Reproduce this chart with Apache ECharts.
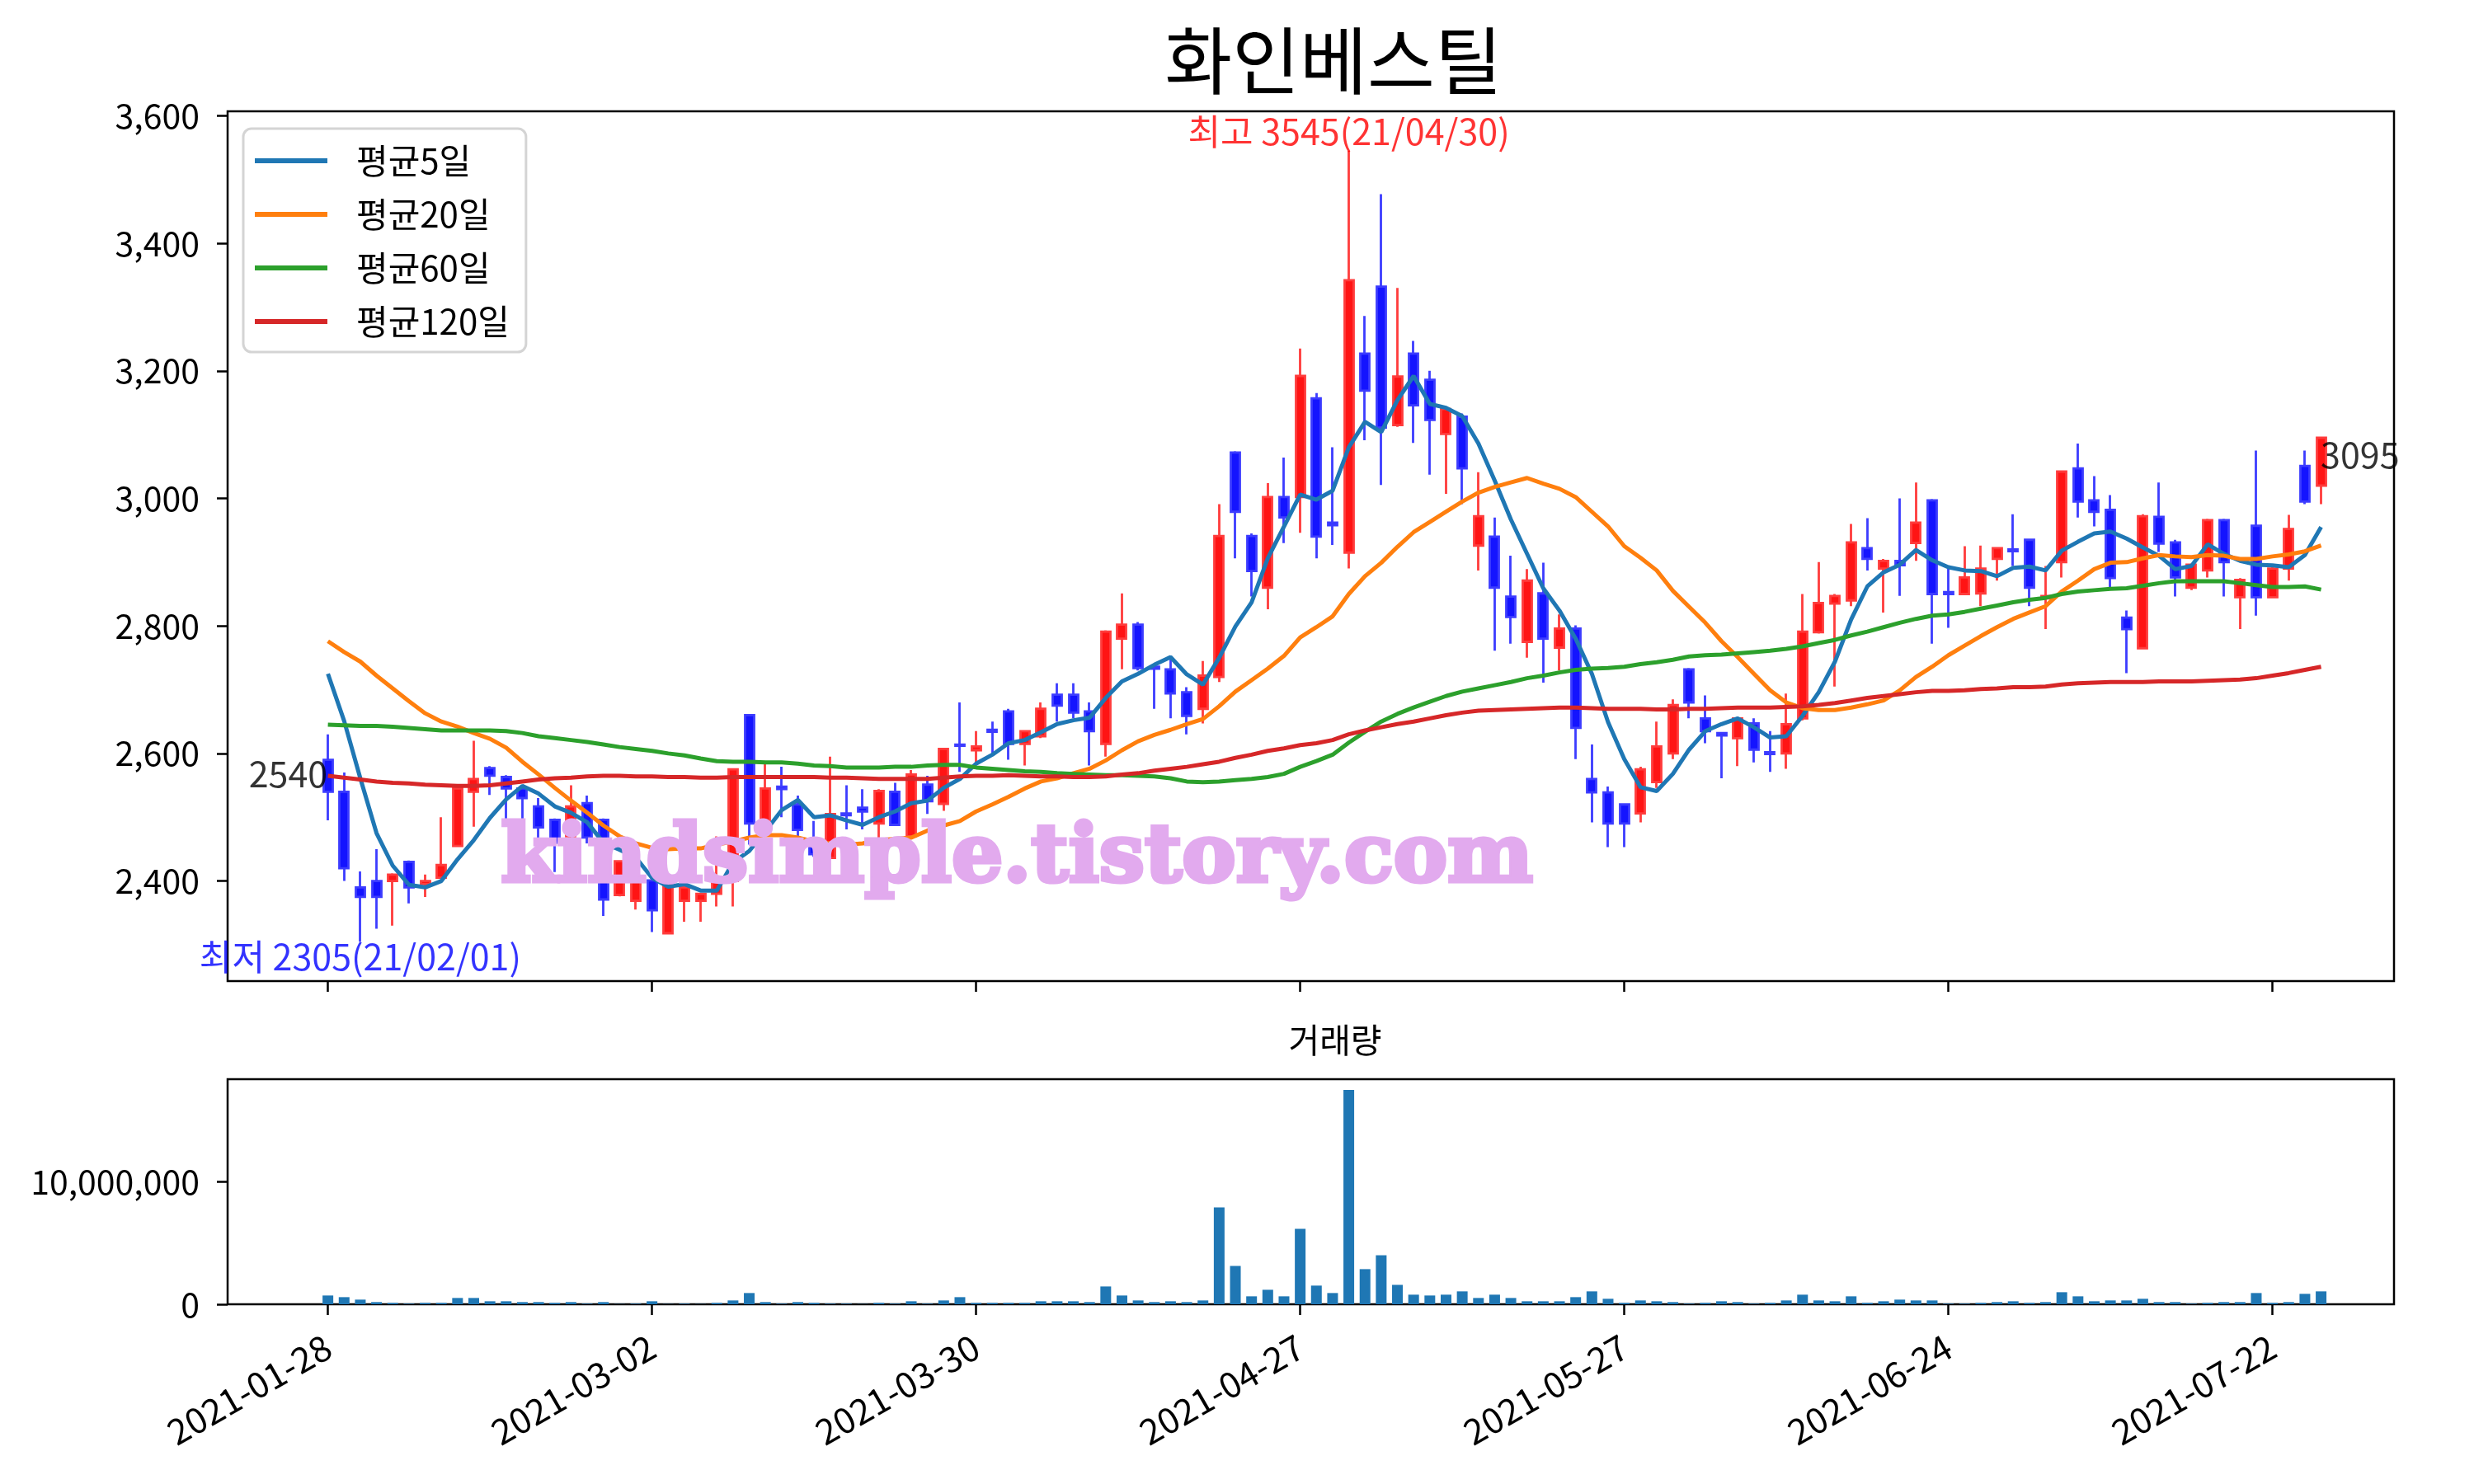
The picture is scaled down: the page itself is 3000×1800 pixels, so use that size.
<!DOCTYPE html>
<html><head><meta charset="utf-8">
<script src="https://cdn.jsdelivr.net/npm/echarts@6/dist/echarts.min.js"></script>
<style>html,body{margin:0;padding:0;background:#fff}#c{width:3000px;height:1800px}</style>
</head><body><div id="c"></div>
<script>
const stockName = '화인베스틸';
const volTitle = '거래량';
const watermark = 'kindsimple.tistory.com';
const maNames = ['평균5일', '평균20일', '평균60일', '평균120일'];

const dates = ['2021-01-28','2021-01-29','2021-02-01','2021-02-02','2021-02-03','2021-02-04','2021-02-05','2021-02-08','2021-02-09','2021-02-10',
'2021-02-15','2021-02-16','2021-02-17','2021-02-18','2021-02-19','2021-02-22','2021-02-23','2021-02-24','2021-02-25','2021-02-26',
'2021-03-02','2021-03-03','2021-03-04','2021-03-05','2021-03-08','2021-03-09','2021-03-10','2021-03-11','2021-03-12','2021-03-15',
'2021-03-16','2021-03-17','2021-03-18','2021-03-19','2021-03-22','2021-03-23','2021-03-24','2021-03-25','2021-03-26','2021-03-29',
'2021-03-30','2021-03-31','2021-04-01','2021-04-02','2021-04-05','2021-04-06','2021-04-07','2021-04-08','2021-04-09','2021-04-12',
'2021-04-13','2021-04-14','2021-04-15','2021-04-16','2021-04-19','2021-04-20','2021-04-21','2021-04-22','2021-04-23','2021-04-26',
'2021-04-27','2021-04-28','2021-04-29','2021-04-30','2021-05-03','2021-05-04','2021-05-06','2021-05-07','2021-05-10','2021-05-11',
'2021-05-12','2021-05-13','2021-05-14','2021-05-17','2021-05-18','2021-05-20','2021-05-21','2021-05-24','2021-05-25','2021-05-26',
'2021-05-27','2021-05-28','2021-05-31','2021-06-01','2021-06-02','2021-06-03','2021-06-04','2021-06-07','2021-06-08','2021-06-09',
'2021-06-10','2021-06-11','2021-06-14','2021-06-15','2021-06-16','2021-06-17','2021-06-18','2021-06-21','2021-06-22','2021-06-23',
'2021-06-24','2021-06-25','2021-06-28','2021-06-29','2021-06-30','2021-07-01','2021-07-02','2021-07-05','2021-07-06','2021-07-07',
'2021-07-08','2021-07-09','2021-07-12','2021-07-13','2021-07-14','2021-07-15','2021-07-16','2021-07-19','2021-07-20','2021-07-21',
'2021-07-22','2021-07-23','2021-07-26','2021-07-27'];

const opens = [2590,2540,2390,2400,2400,2430,2395,2405,2455,2540,
2577,2563,2545,2517,2496,2470,2522,2496,2378,2369,
2401,2318,2369,2369,2380,2400,2660,2490,2548,2520,
2466,2436,2506,2515,2490,2540,2470,2551,2521,2614,
2605,2637,2666,2615,2627,2692,2692,2666,2615,2780,
2802,2736,2732,2696,2670,2720,3072,2941,2860,3002,
3002,3157,2962,2915,3227,3332,3115,3227,3186,3101,
3128,2926,2940,2846,2775,2851,2766,2796,2560,2539,
2520,2506,2555,2600,2732,2655,2632,2624,2647,2602,
2600,2655,2790,2835,2840,2922,2890,2902,2930,2997,
2853,2850,2851,2905,2920,2935,2843,2900,3047,2997,
2982,2813,2765,2971,2931,2860,2887,2966,2845,2957,
2845,2890,3051,3020];

const highs = [2630,2570,2415,2450,2412,2432,2410,2500,2548,2620,
2580,2566,2550,2530,2498,2550,2534,2498,2432,2400,
2403,2401,2391,2380,2470,2577,2662,2588,2579,2534,
2494,2595,2550,2544,2544,2554,2574,2565,2608,2680,
2635,2650,2670,2636,2680,2710,2710,2680,2793,2851,
2806,2737,2753,2704,2745,2991,3074,2945,3024,3064,
3235,3165,3080,3545,3286,3477,3330,3247,3200,3142,
3133,3041,2970,2910,2889,2899,2818,2801,2614,2548,
2522,2579,2650,2685,2734,2691,2633,2656,2655,2635,
2694,2850,2900,2850,2960,2969,2905,3000,3025,2999,
2890,2925,2926,2923,2975,2937,2894,3044,3086,3035,
3005,2824,2975,3025,2935,2897,2968,2968,2875,3075,
2892,2974,3075,3096];

const lows = [2495,2400,2305,2325,2330,2365,2375,2405,2453,2485,
2535,2485,2495,2467,2414,2465,2459,2345,2376,2355,
2320,2317,2336,2336,2360,2360,2457,2480,2500,2470,
2438,2434,2481,2481,2466,2486,2468,2505,2510,2571,
2587,2600,2590,2581,2624,2650,2655,2581,2595,2732,
2730,2670,2655,2630,2647,2712,2906,2846,2826,2930,
2946,2906,2927,2890,3091,3021,3112,3087,3037,3007,
2991,2887,2761,2772,2750,2711,2730,2591,2492,2453,
2453,2492,2546,2591,2655,2616,2561,2580,2586,2571,
2576,2652,2788,2705,2831,2887,2821,2847,2902,2772,
2797,2848,2831,2871,2894,2831,2795,2876,2970,2956,
2861,2726,2763,2916,2846,2856,2876,2846,2795,2816,
2844,2871,2991,2991];

const closes = [2540,2420,2375,2375,2410,2390,2400,2425,2545,2560,
2565,2545,2530,2484,2460,2517,2468,2371,2431,2399,
2354,2400,2390,2380,2400,2575,2490,2545,2544,2480,
2442,2505,2503,2509,2541,2488,2567,2525,2607,2612,
2611,2634,2615,2635,2670,2675,2664,2635,2791,2802,
2734,2733,2694,2659,2722,2941,2979,2886,3002,2970,
3192,2940,2958,3342,3169,3111,3191,3146,3123,3140,
3047,2972,2860,2814,2871,2780,2796,2640,2539,2490,
2490,2575,2611,2676,2680,2635,2628,2655,2606,2599,
2646,2791,2836,2847,2931,2905,2902,2895,2962,2850,
2850,2876,2890,2922,2917,2860,2847,3042,2995,2979,
2875,2795,2972,2929,2876,2896,2966,2900,2872,2845,
2890,2952,2995,3095];

const volumes = [714000,580000,379000,178000,112000,45000,112000,112000,513000,513000,
245000,245000,178000,178000,112000,178000,45000,178000,15000,45000,
245000,15000,45000,15000,112000,312000,915000,178000,45000,178000,
112000,45000,45000,15000,112000,45000,245000,45000,312000,580000,
112000,112000,112000,112000,245000,245000,245000,178000,1450000,714000,
312000,178000,245000,178000,312000,7880000,3120000,647000,1180000,647000,
6140000,1520000,915000,17450000,2860000,3990000,1580000,781000,714000,781000,
1050000,513000,781000,513000,245000,245000,245000,580000,1050000,446000,
112000,312000,245000,178000,45000,112000,245000,178000,45000,112000,
312000,781000,312000,245000,647000,112000,245000,379000,312000,312000,
45000,45000,112000,178000,245000,112000,178000,982000,647000,245000,
312000,312000,446000,178000,178000,45000,112000,178000,178000,915000,
112000,178000,848000,1050000];

const ma5 = [2725,2651,2561,2475,2424,2394,2390,2400,2434,2464,
2499,2528,2549,2537,2517,2507,2492,2460,2449,2437,
2405,2391,2395,2385,2385,2429,2447,2478,2511,2527,
2500,2503,2495,2488,2500,2509,2522,2526,2546,2560,
2584,2598,2616,2621,2633,2646,2652,2656,2687,2713,
2725,2739,2751,2724,2708,2750,2799,2837,2906,2956,
3006,2998,3012,3080,3120,3104,3154,3192,3148,3142,
3129,3086,3028,2967,2913,2859,2824,2780,2725,2649,
2591,2547,2541,2568,2606,2635,2646,2655,2641,2625,
2627,2659,2696,2744,2810,2862,2884,2896,2919,2903,
2892,2887,2886,2878,2891,2893,2887,2918,2932,2945,
2948,2937,2923,2910,2889,2894,2928,2913,2902,2896,
2895,2892,2911,2955];

const ma20 = [2776,2759,2744,2722,2702,2682,2663,2650,2642,2632,
2623,2609,2587,2567,2546,2526,2507,2487,2470,2459,
2452,2450,2451,2451,2457,2462,2468,2472,2472,2468,
2462,2459,2457,2459,2464,2466,2468,2479,2487,2494,
2509,2520,2532,2545,2556,2561,2569,2576,2589,2605,
2619,2629,2637,2646,2654,2674,2697,2715,2733,2753,
2782,2798,2815,2850,2878,2899,2924,2947,2963,2979,
2995,3009,3018,3025,3032,3023,3015,3002,2979,2956,
2925,2907,2887,2855,2830,2805,2776,2751,2725,2699,
2680,2671,2668,2668,2672,2677,2683,2699,2720,2736,
2754,2769,2784,2798,2811,2821,2831,2854,2871,2889,
2899,2900,2906,2911,2909,2908,2911,2910,2905,2905,
2909,2912,2917,2926];

const ma60 = [2645,2644,2643,2643,2642,2640,2638,2636,2636,2636,
2636,2635,2632,2627,2624,2621,2618,2614,2610,2607,
2604,2600,2597,2592,2588,2587,2587,2586,2586,2584,
2581,2580,2578,2578,2578,2579,2579,2581,2582,2582,
2578,2576,2574,2572,2571,2569,2568,2567,2566,2566,
2565,2564,2561,2556,2555,2556,2558,2560,2563,2568,
2579,2588,2598,2617,2634,2650,2662,2672,2681,2690,
2697,2702,2707,2712,2718,2722,2727,2731,2733,2734,
2736,2740,2743,2747,2752,2754,2755,2757,2759,2761,
2764,2768,2773,2778,2785,2791,2798,2805,2811,2816,
2818,2822,2827,2832,2837,2841,2844,2850,2854,2856,
2858,2859,2863,2867,2870,2870,2870,2870,2867,2864,
2861,2861,2862,2857];

const ma120 = [2565,2562,2559,2556,2554,2553,2551,2550,2549,2549,
2550,2553,2556,2559,2561,2562,2564,2565,2565,2564,
2564,2563,2563,2562,2562,2563,2563,2563,2563,2563,
2563,2562,2562,2561,2560,2560,2560,2560,2562,2564,
2565,2565,2566,2565,2564,2564,2563,2563,2564,2567,
2569,2573,2576,2579,2583,2587,2593,2598,2604,2608,
2613,2616,2621,2630,2636,2641,2646,2650,2655,2660,
2664,2667,2668,2669,2670,2671,2672,2672,2671,2670,
2670,2670,2669,2669,2670,2670,2671,2672,2672,2672,
2673,2674,2676,2679,2683,2687,2690,2693,2696,2698,
2698,2699,2701,2702,2704,2704,2705,2708,2710,2711,
2712,2712,2712,2713,2713,2713,2714,2715,2716,2718,
2722,2726,2731,2736];

const tickIdx = [0, 20, 40, 60, 80, 100, 120];
const priceTicks = [2400, 2600, 2800, 3000, 3200, 3400, 3600];
const volTicks = [0, 10000000];

const maColors = ['#1f77b4', '#ff7f0e', '#2ca02c', '#d62728'];
const maData = [ma5, ma20, ma60, ma120];
const FONT = '"Noto Sans CJK KR", "Noto Sans", sans-serif';
const fmt = v => Math.round(v).toLocaleString('en-US');
const shortDate = d => d.slice(2).replace(/-/g, '/');

const candleData = dates.map((d, i) => [i, opens[i], closes[i], lows[i], highs[i]]);
const hiVal = Math.max(...highs), hiIdx = highs.indexOf(hiVal);
const loVal = Math.min(...lows), loIdx = lows.indexOf(loVal);
const lastIdx = closes.length - 1;

const xMin = -6.19, xMax = 127.5;
const fs = 41;
const fsNote = 43;

const chart = echarts.init(document.getElementById('c'), null, {renderer: 'canvas', width: 3000, height: 1800});
const tickStyle = {color: '#000', width: 2.5};
const noLine = {show: false, onZero: false};

const option = {
  animation: false,
  backgroundColor: '#ffffff',
  textStyle: {fontFamily: FONT},
  title: [
    {text: stockName, left: 1612, top: 24, textAlign: 'center',
     textStyle: {fontSize: 89, fontWeight: 'normal', color: '#000', fontFamily: FONT}},
    {text: volTitle, left: 1614, top: 1236, textAlign: 'center',
     textStyle: {fontSize: fs, fontWeight: 'normal', color: '#000', fontFamily: FONT}}
  ],
  legend: {
    data: maNames, orient: 'vertical', left: 295, top: 156,
    icon: 'rect', itemWidth: 88, itemHeight: 6, itemGap: 23,
    padding: [18, 20, 16, 14],
    borderColor: '#d4d4d4', borderWidth: 3, borderRadius: 10, backgroundColor: '#ffffff',
    textStyle: {fontSize: 42, color: '#000', fontFamily: FONT, lineHeight: 40, padding: [0, 0, 0, 30]}
  },
  grid: [
    {left: 276, top: 135, width: 2627, height: 1055, show: true, borderColor: '#000', borderWidth: 2.5},
    {left: 276, top: 1309, width: 2627, height: 273, show: true, borderColor: '#000', borderWidth: 2.5}
  ],
  xAxis: [
    {type: 'value', gridIndex: 0, min: xMin, max: xMax, splitLine: {show: false}, axisLine: noLine,
     axisTick: {show: true, customValues: tickIdx, length: 13, lineStyle: tickStyle},
     axisLabel: {show: false}},
    {type: 'value', gridIndex: 1, min: xMin, max: xMax, splitLine: {show: false}, axisLine: noLine,
     axisTick: {show: true, customValues: tickIdx, length: 13, lineStyle: tickStyle},
     axisLabel: {show: true, customValues: tickIdx, formatter: v => dates[Math.round(v)], rotate: 30, margin: 48,
       fontSize: 43, color: '#000', fontFamily: FONT}}
  ],
  yAxis: [
    {type: 'value', gridIndex: 0, min: 2243, max: 3607, splitLine: {show: false}, axisLine: noLine,
     axisTick: {show: true, customValues: priceTicks, length: 13, lineStyle: tickStyle},
     axisLabel: {show: true, customValues: priceTicks, formatter: fmt, margin: 34, fontSize: fs, color: '#000', fontFamily: FONT}},
    {type: 'value', gridIndex: 1, min: 0, max: 18320000, splitLine: {show: false}, axisLine: noLine,
     axisTick: {show: true, customValues: volTicks, length: 13, lineStyle: tickStyle},
     axisLabel: {show: true, customValues: volTicks, formatter: fmt, margin: 34, fontSize: fs, color: '#000', fontFamily: FONT}}
  ],
  graphic: [
    {type: 'text', x: 1233, y: 1044, z: 100, silent: true,
     style: {text: watermark, fill: '#e2aaee', stroke: '#e2aaee', lineWidth: 5,
       font: 'bold 98px "DejaVu Serif"', align: 'center', verticalAlign: 'middle'}}
  ],
  series: [
    {type: 'candlestick', name: 'price', xAxisIndex: 0, yAxisIndex: 0, data: candleData, barWidth: 11.5, z: 2,
     itemStyle: {color: '#ff1414', color0: '#1414ff', borderColor: '#ff3c3c', borderColor0: '#3c3cff', borderWidth: 2.8}},
    ...maData.map((arr, k) => ({
      type: 'line', name: maNames[k], xAxisIndex: 0, yAxisIndex: 0, z: 3,
      data: arr.map((v, i) => [i, v]), symbol: 'none', showSymbol: false,
      lineStyle: {width: 5, color: maColors[k]}, itemStyle: {color: maColors[k]}
    })),
    {type: 'bar', name: 'volume', xAxisIndex: 1, yAxisIndex: 1, barWidth: 13,
     data: volumes.map((v, i) => [i, v]), itemStyle: {color: '#1f77b4'}},
    {type: 'scatter', name: 'notes', xAxisIndex: 0, yAxisIndex: 0, symbolSize: 1, silent: true, z: 6,
     itemStyle: {color: 'rgba(0,0,0,0)'},
     data: [
       {value: [hiIdx, hiVal], label: {show: true, position: 'top', distance: 1, color: '#ff0000', fontSize: fsNote, fontFamily: FONT,
         formatter: '최고 ' + hiVal + '(' + shortDate(dates[hiIdx]) + ')'}},
       {value: [loIdx, loVal], label: {show: true, position: 'bottom', distance: -3, color: '#0000ff', fontSize: fsNote, fontFamily: FONT,
         formatter: '최저 ' + loVal + '(' + shortDate(dates[loIdx]) + ')'}},
       {value: [0, closes[0]], label: {show: true, position: [0, 0], align: 'right', verticalAlign: 'bottom', color: '#000', fontSize: fsNote, fontFamily: FONT,
         formatter: String(closes[0])}},
       {value: [lastIdx, closes[lastIdx]], label: {show: true, position: [0, 0], align: 'left', verticalAlign: 'top', color: '#000', fontSize: fsNote, fontFamily: FONT,
         formatter: String(closes[lastIdx])}}
     ]}
  ]
};
chart.setOption(option);
</script></body></html>
